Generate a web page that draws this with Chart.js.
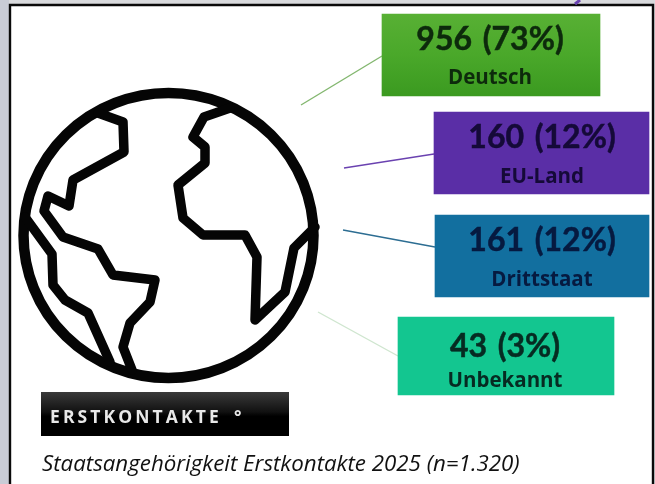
<!DOCTYPE html>
<html><head><meta charset="utf-8">
<style>html,body{margin:0;padding:0;background:#fff}canvas{display:block;filter:blur(0.45px)}</style>
<script src="https://cdn.jsdelivr.net/npm/chart.js@4"></script>
</head><body><canvas id="c" width="655" height="484"></canvas>
<script>
const categories = ["Deutsch", "EU-Land", "Drittstaat", "Unbekannt"];
const counts = [956, 160, 161, 43];
const percents = [73, 12, 12, 3];
const chartTitle = "Staatsangehörigkeit Erstkontakte 2025 (n=1.320)";
const badgeText = "ERSTKONTAKTE";

const boxColors = ["#47a628", "#5a2ea6", "#126f9f", "#13c690"];
const lineColors = ["#83b76f", "#6a42b0", "#2c6d92", "#cfe6cf"];
const textColors = ["#0d2a0c", "#150a38", "#061a40", "#062b22"];

// Layout of the infographic on a page-sized coordinate system
const boxX = [[382, 600], [434, 649], [435, 649], [398, 614]];
const boxCenterY = [55, 153, 256, 356];
const boxH = [82, 82, 82, 78];
const connectors = [[[301, 105], [382, 56]], [[344, 168], [434, 154]], [[343, 230], [435, 247]], [[318, 312], [398, 356]]];
const labelPos = [[490, 50, 84], [542, 148, 183], [542, 251, 286], [505, 357, 387]];

// Globe icon outlines
const land = [
 [[98,113],[123,122],[124,152],[73,180],[69,206],[48,196],[44,211],[63,237],[98,249],[113,275],[155,280],[150,302],[130,323],[123,347],[132,370]],
 [[25,217],[52,254],[53,285],[65,300],[88,313],[110,362]],
 [[230,108],[204,117],[193,137],[205,147],[205,163],[178,185],[183,218],[203,235],[245,235],[257,257],[255,320],[285,292],[294,248],[315,227]]
];

const backdrop = {
  id: "backdrop",
  beforeDraw(chart) {
    const c = chart.ctx;
    c.save();
    c.fillStyle = "#d9dadd"; c.fillRect(0, 0, 655, 484);
    c.fillStyle = "#c9ccd6"; c.fillRect(0, 0, 9, 484);
    c.fillStyle = "#ffffff"; c.fillRect(9, 4, 645, 480);
    c.strokeStyle = "#0a0a0a"; c.lineWidth = 2.4;
    c.beginPath(); c.moveTo(10, 486); c.lineTo(10, 5); c.lineTo(653, 5); c.lineTo(653, 486); c.stroke();
    c.strokeStyle = "#6a42b0"; c.lineWidth = 3;
    c.beginPath(); c.moveTo(575, 4); c.lineTo(580, 0); c.stroke();
    c.restore();
  }
};

const globe = {
  id: "globe",
  beforeDatasetsDraw(chart) {
    const c = chart.ctx, X = v => chart.scales.x.getPixelForValue(v), Y = v => chart.scales.y.getPixelForValue(v);
    c.save();
    c.strokeStyle = "#050505"; c.lineJoin = "round"; c.lineCap = "round";
    c.lineWidth = 10.5;
    c.beginPath(); c.ellipse(X(168.5), Y(235.5), 145, 142.5, 0, 0, Math.PI * 2); c.stroke();
    c.lineWidth = 9.5;
    land.forEach(path => {
      c.beginPath();
      path.forEach((p, i) => i ? c.lineTo(X(p[0]), Y(p[1])) : c.moveTo(X(p[0]), Y(p[1])));
      c.stroke();
    });
    c.restore();
  }
};

const texts = {
  id: "texts",
  afterDatasetsDraw(chart) {
    const c = chart.ctx, X = v => chart.scales.x.getPixelForValue(v), Y = v => chart.scales.y.getPixelForValue(v);
    c.save();
    c.textAlign = "center"; c.textBaseline = "alphabetic";
    categories.forEach((name, i) => {
      const p = labelPos[i];
      c.fillStyle = textColors[i]; c.strokeStyle = textColors[i]; c.lineWidth = 0.5;
      c.font = "bold 32px Lato"; c.wordSpacing = "3px";
      const t = counts[i] + " (" + percents[i] + "%)";
      c.fillText(t, X(p[0]), Y(p[1]));
      c.strokeText(t, X(p[0]), Y(p[1]));
      c.wordSpacing = "0px";
      c.font = "bold 20.5px 'Open Sans'";
      c.fillText(name, X(p[0]), Y(p[2]));
    });
    // badge
    const g = c.createLinearGradient(0, 392, 0, 436);
    g.addColorStop(0, "#3a3a3a"); g.addColorStop(0.45, "#111"); g.addColorStop(0.55, "#000"); g.addColorStop(1, "#000");
    c.fillStyle = g; c.fillRect(41, 392, 248, 44);
    c.fillStyle = "#e8e8e8"; c.textAlign = "left";
    c.font = "bold 17.5px 'Open Sans'"; c.letterSpacing = "3.1px";
    c.fillText(badgeText, 50, 423);
    c.letterSpacing = "0px";
    c.fillText("°", 234, 423);
    c.fillStyle = "#111"; c.font = "italic 22.3px 'Open Sans'";
    c.fillText(chartTitle, 42, 471);
    c.restore();
  }
};

const barSets = categories.map((name, i) => ({
  type: "bar", label: name, indexAxis: "y", grouped: false, order: 1,
  data: [{ x: boxX[i], y: boxCenterY[i] }],
  barThickness: boxH[i], categoryPercentage: 1, barPercentage: 1,
  backgroundColor: i === 0 ? (ctx => {
    const a = ctx.chart.chartArea; if (!a) return boxColors[0];
    const g = ctx.chart.ctx.createLinearGradient(0, 14, 0, 96);
    g.addColorStop(0, "#58b034"); g.addColorStop(0.5, "#4aa82a"); g.addColorStop(1, "#3b9a20");
    return g;
  }) : boxColors[i], borderWidth: 0
}));
const lineSets = categories.map((name, i) => ({
  type: "scatter", label: name + " Linie", showLine: true, order: 2,
  data: connectors[i].map(p => ({ x: p[0], y: p[1] })),
  borderColor: lineColors[i], borderWidth: 1.4, pointRadius: 0, fill: false
}));

new Chart(document.getElementById("c"), {
  data: { datasets: [...lineSets, ...barSets] },
  options: {
    responsive: false, animation: false, devicePixelRatio: 1,
    layout: { padding: 0 },
    plugins: { legend: { display: false }, tooltip: { enabled: false }, title: { display: false } },
    scales: {
      x: { type: "linear", min: 0, max: 655, display: false, offset: false },
      y: { type: "linear", min: 0, max: 484, reverse: true, display: false, offset: false }
    }
  },
  plugins: [backdrop, globe, texts]
});
</script></body></html>
